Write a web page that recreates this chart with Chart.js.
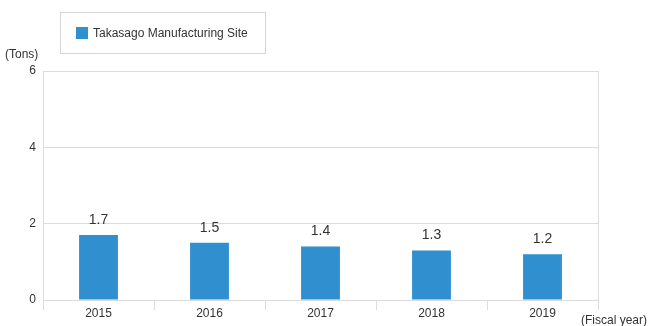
<!DOCTYPE html>
<html>
<head>
<meta charset="utf-8">
<script src="https://cdn.jsdelivr.net/npm/chart.js@4/dist/chart.umd.min.js"></script>
<style>
  html, body { margin: 0; padding: 0; background: #fff; }
  #wrap { width: 650px; height: 326px; position: relative; }
</style>
</head>
<body>
<div id="wrap"><canvas id="myChart"></canvas></div>
<script>
var years = ['2015', '2016', '2017', '2018', '2019'];
var takasago = [1.7, 1.5, 1.4, 1.3, 1.2];
var yTicks = [0, 2, 4, 6];
var seriesName = 'Takasago Manufacturing Site';
var yUnit = '(Tons)';
var xUnit = '(Fiscal year)';

var barColor = '#308fcf';
var gridColor = '#dcdcdc';
var textColor = '#333333';
var fontFamily = '"Liberation Sans", Arial, Helvetica, sans-serif';

// extra drawing: legend box, unit labels, value labels
const extras = {
    id: 'extras',
    afterDraw(chart) {
        const ctx = chart.ctx;
        ctx.save();

        // legend with border
        ctx.strokeStyle = '#d6d6d6';
        ctx.lineWidth = 1;
        ctx.strokeRect(60.5, 12.5, 205, 41);
        ctx.fillStyle = barColor;
        ctx.fillRect(76, 27, 12, 12);
        ctx.fillStyle = textColor;
        ctx.font = '12px ' + fontFamily;
        ctx.textAlign = 'left';
        ctx.textBaseline = 'middle';
        ctx.fillText(chart.data.datasets[0].label, 93, 34);

        // units
        ctx.fillText(yUnit, 5, 55);
        ctx.textAlign = 'right';
        ctx.fillText(xUnit, 647, 321);

        // values above bars
        ctx.font = '14px ' + fontFamily;
        ctx.textAlign = 'center';
        ctx.textBaseline = 'bottom';
        const meta = chart.getDatasetMeta(0);
        meta.data.forEach(function (bar, i) {
            ctx.fillText(takasago[i].toFixed(1), bar.x, bar.y - 8);
        });
        ctx.restore();
    }
};

const config = {
    type: 'bar',
    data: {
        labels: years,
        datasets: [{
            label: seriesName,
            data: takasago,
            backgroundColor: barColor,
            borderWidth: 0,
            barPercentage: 0.35,
            categoryPercentage: 1
        }]
    },
    options: {
        responsive: true,
        maintainAspectRatio: false,
        animation: false,
        layout: {
            padding: { top: 71, right: 52, left: 0, bottom: 0 }
        },
        plugins: {
            legend: { display: false },
            tooltip: { enabled: false }
        },
        scales: {
            x: {
                offset: true,
                grid: {
                    offset: true,
                    drawOnChartArea: false,
                    drawTicks: true,
                    tickLength: 10,
                    color: gridColor
                },
                border: { display: true, color: gridColor },
                ticks: {
                    color: textColor,
                    padding: -4,
                    font: { size: 12, family: fontFamily }
                },
                afterFit: function (scale) { scale.height = 26; }
            },
            y: {
                min: 0,
                max: 6,
                afterBuildTicks: function (scale) {
                    scale.ticks = yTicks.map(v => ({ value: v }));
                },
                grid: {
                    color: gridColor,
                    drawTicks: false
                },
                border: { display: true, color: gridColor },
                ticks: {
                    color: textColor,
                    padding: 7,
                    font: { size: 12, family: fontFamily }
                },
                afterFit: function (scale) { scale.width = 43; }
            },
            right: {
                position: 'right',
                min: 0,
                max: 6,
                grid: { display: false },
                ticks: { display: false },
                border: { display: true, color: gridColor },
                afterFit: function (scale) { scale.width = 0; }
            }
        }
    },
    plugins: [extras]
};

const myChart = new Chart(document.getElementById('myChart'), config);
</script>
</body>
</html>
